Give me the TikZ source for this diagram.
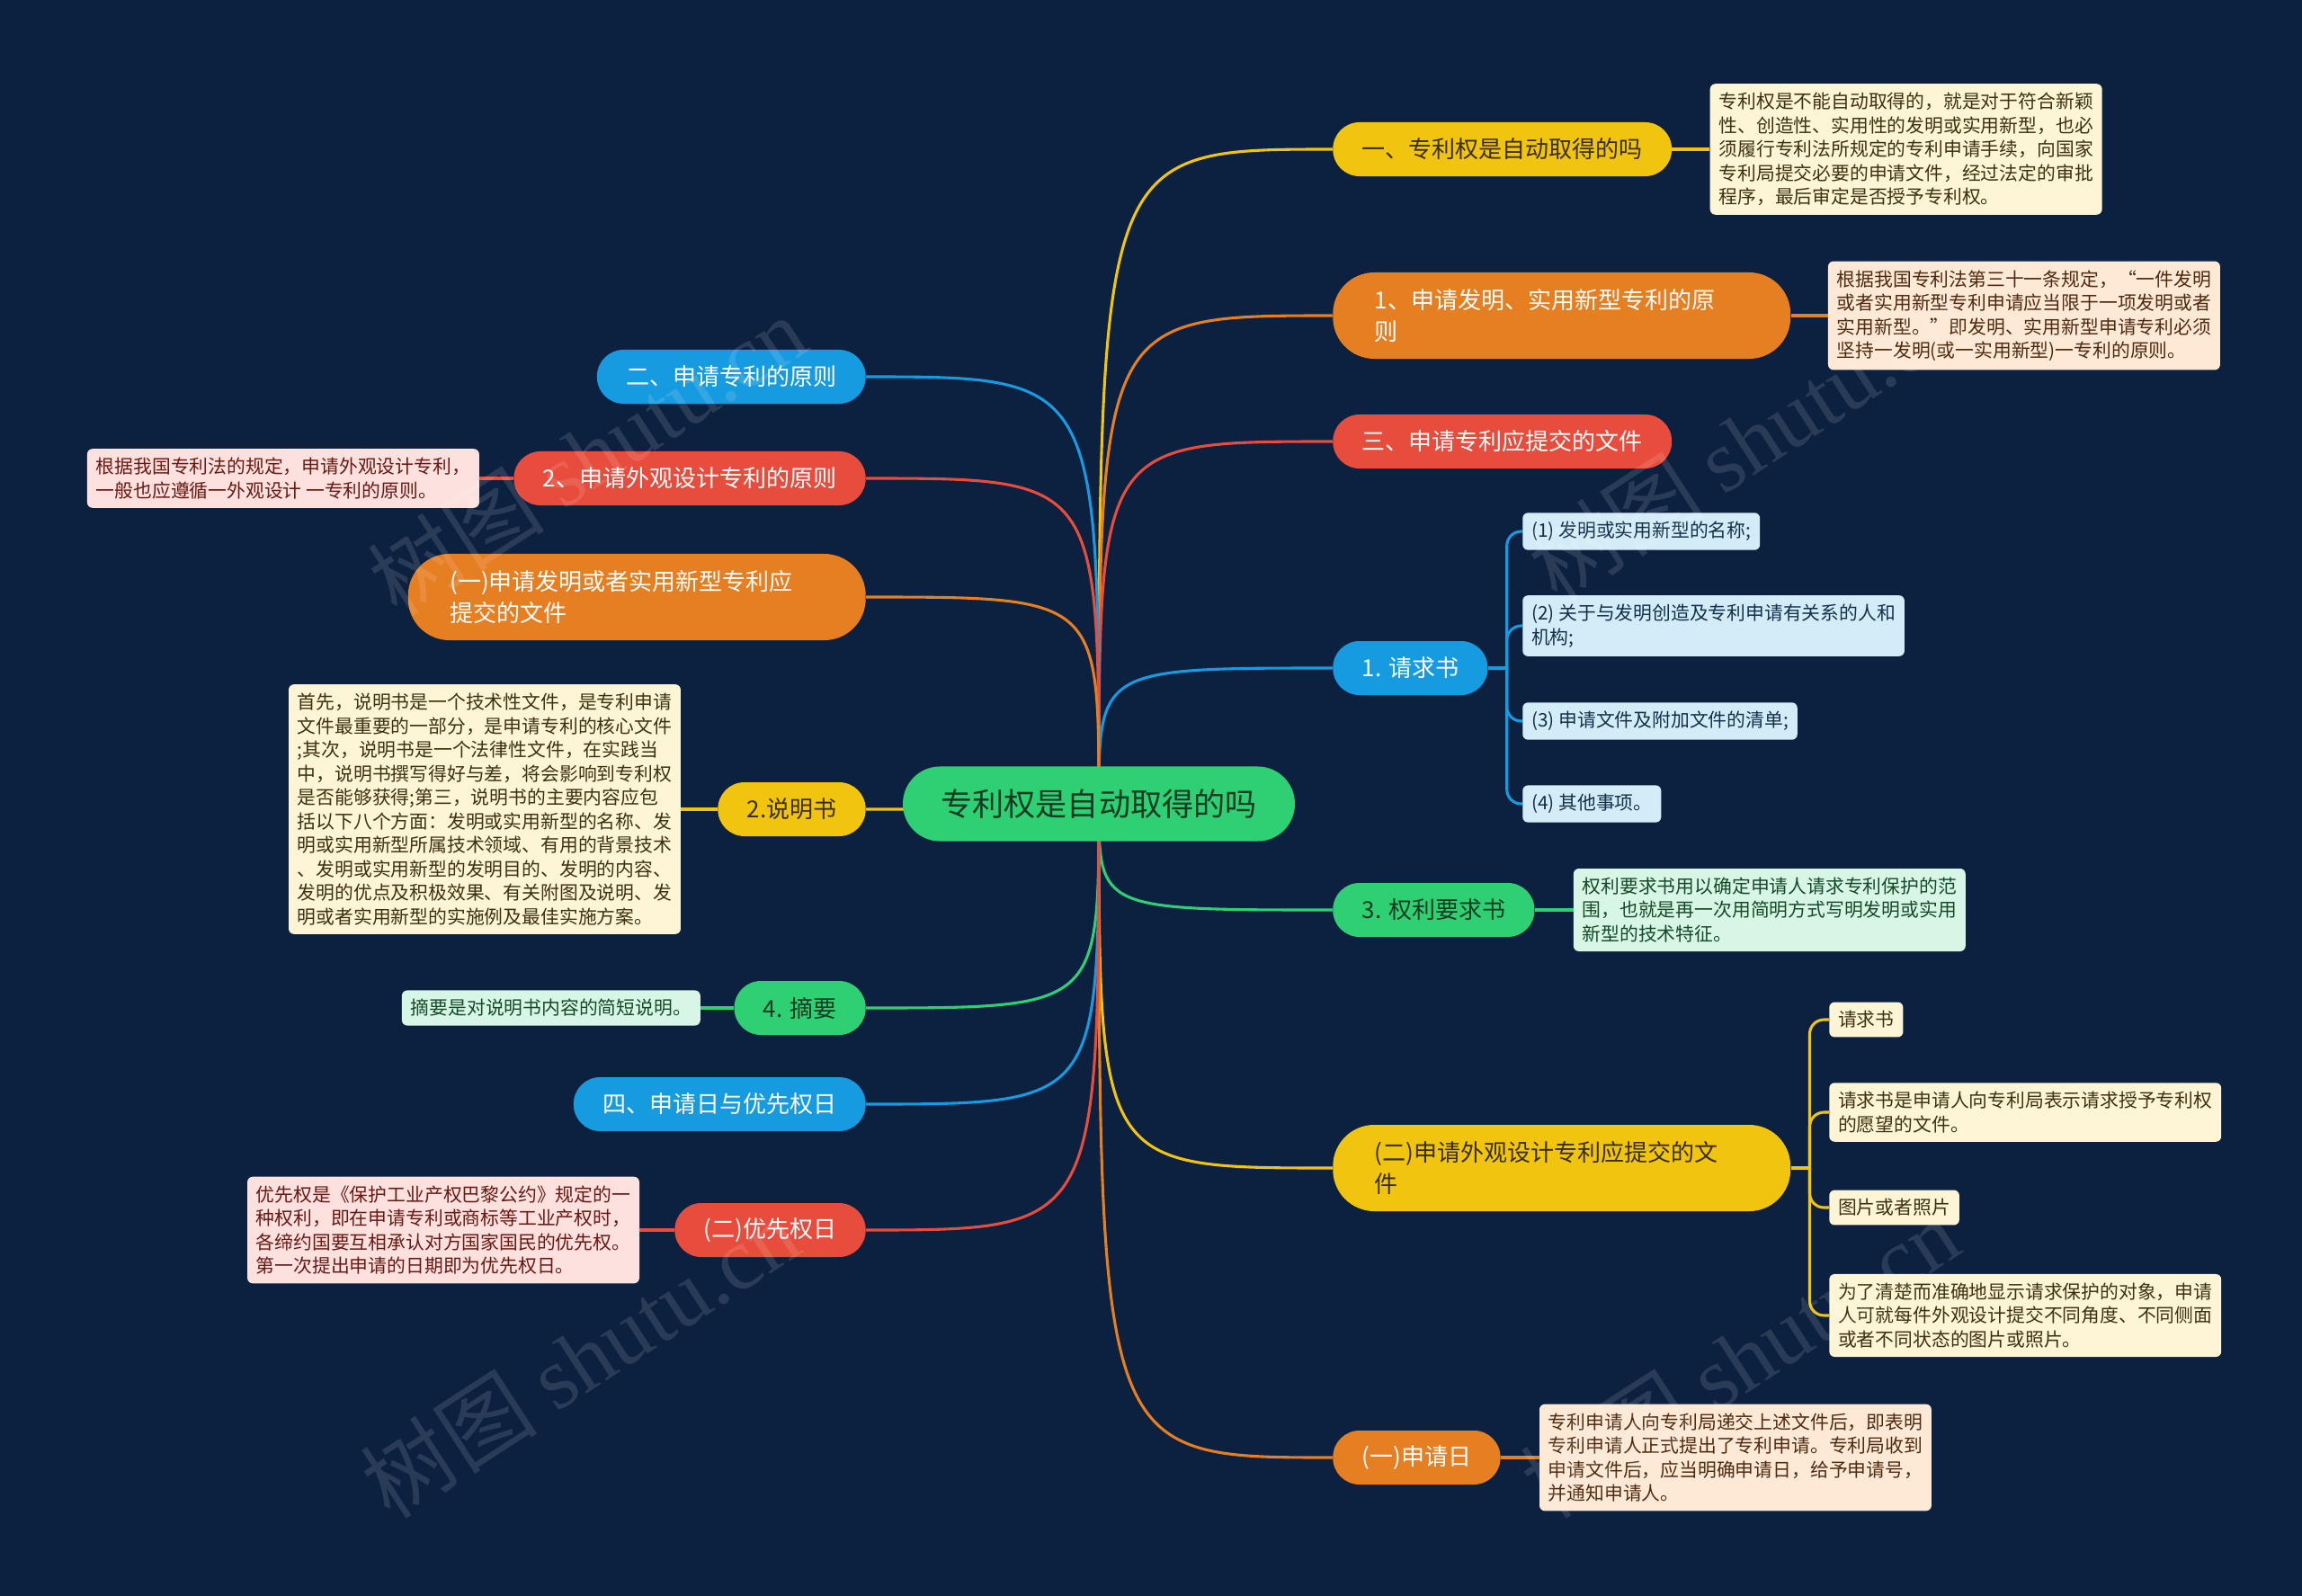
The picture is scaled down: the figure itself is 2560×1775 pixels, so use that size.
\documentclass[tikz,border=0pt]{standalone}
\usepackage{fontspec}
\setmainfont{Noto Sans CJK SC}
\newfontfamily\wmserif{Liberation Serif}
\usetikzlibrary{positioning,backgrounds}

\definecolor{bgnavy}{HTML}{0C213F}
\definecolor{cgrn}{HTML}{2FCF73}
\definecolor{cyel}{HTML}{F1C40F}
\definecolor{corg}{HTML}{E67E22}
\definecolor{cred}{HTML}{E74C3C}
\definecolor{cblu}{HTML}{179BE0}
\definecolor{tgrn}{HTML}{143B21}
\definecolor{tyel}{HTML}{382E00}
\definecolor{lyel}{HTML}{FDF5D5}
\definecolor{lorg}{HTML}{FDE9D6}
\definecolor{lred}{HTML}{FCE1DF}
\definecolor{lblu}{HTML}{D3ECF8}
\definecolor{lgrn}{HTML}{D8F6E5}
\definecolor{kyel}{HTML}{3D3210}
\definecolor{korg}{HTML}{4E2A10}
\definecolor{kred}{HTML}{6A1812}
\definecolor{kblu}{HTML}{12304A}
\definecolor{kgrn}{HTML}{154A28}

\tikzset{
  root/.style={rectangle,rounded corners=1.03cm,fill=cgrn,text=tgrn,
    minimum height=2.075cm,inner xsep=30pt,font=\fontsize{25}{30}\selectfont},
  topic/.style={rectangle,rounded corners=0.74cm,minimum height=1.5cm,
    inner xsep=23pt,font=\fontsize{18.5}{25.5}\selectfont,align=left},
  topic2/.style={topic,rounded corners=1.15cm,minimum height=2.4cm,
    text width=10.4cm,inner xsep=33pt},
  ytopic/.style={fill=cyel,text=tyel},
  otopic/.style={fill=corg,text=white},
  rtopic/.style={fill=cred,text=white},
  btopic/.style={fill=cblu,text=white},
  gtopic/.style={fill=cgrn,text=tgrn},
  leaf/.style={rectangle,rounded corners=0.15cm,inner xsep=7pt,inner ysep=7pt,
    font=\fontsize{14.8}{18.85}\selectfont,align=left},
  yleaf/.style={leaf,fill=lyel,text=kyel},
  oleaf/.style={leaf,fill=lorg,text=korg},
  rleaf/.style={leaf,fill=lred,text=kred},
  bleaf/.style={leaf,fill=lblu,text=kblu},
  gleaf/.style={leaf,fill=lgrn,text=kgrn},
  link/.style={line width=2.2pt},
  wmark/.style={font=\fontsize{70}{70}\selectfont,text=white,opacity=0.12,rotate=33}
}

\begin{document}
\begin{tikzpicture}[x=0.025cm,y=-0.025cm]
  \useasboundingbox (0,0) rectangle (2560,1775);

  \node[root] (ctr) at (1222,894) {专利权是自动取得的吗}; % 中心主题

  % 右侧分支
  \node[topic,ytopic,anchor=west] (R1) at (1482,166) {一、专利权是自动取得的吗};
  \node[topic2,otopic,anchor=west] (R2) at (1482,351) {1、申请发明、实用新型专利的原\\则};
  \node[topic,rtopic,anchor=west] (R3) at (1482,491) {三、申请专利应提交的文件};
  \node[topic,btopic,anchor=west] (R4) at (1482,743) {1. 请求书};
  \node[topic,gtopic,anchor=west] (R5) at (1482,1012) {3. 权利要求书};
  \node[topic2,ytopic,anchor=west] (R6) at (1482,1299) {(二)申请外观设计专利应提交的文\\件};
  \node[topic,otopic,anchor=west] (R7) at (1482,1621) {(一)申请日};

  % 左侧分支
  \node[topic,btopic,anchor=east] (L1) at (963,419) {二、申请专利的原则};
  \node[topic,rtopic,anchor=east] (L2) at (963,532) {2、申请外观设计专利的原则};
  \node[topic2,otopic,anchor=east] (L3) at (963,664) {(一)申请发明或者实用新型专利应\\提交的文件};
  \node[topic,ytopic,anchor=east] (L4) at (963,900) {2.说明书};
  \node[topic,gtopic,anchor=east] (L5) at (963,1121) {4. 摘要};
  \node[topic,btopic,anchor=east] (L6) at (963,1228) {四、申请日与优先权日};
  \node[topic,rtopic,anchor=east] (L7) at (963,1368) {(二)优先权日};

  % 说明文字
  \node[yleaf,right=1.05cm of R1] (R1n) {专利权是不能自动取得的，就是对于符合新颖\\性、创造性、实用性的发明或实用新型，也必\\须履行专利法所规定的专利申请手续，向国家\\专利局提交必要的申请文件，经过法定的审批\\程序，最后审定是否授予专利权。};
  \node[oleaf,right=1.03cm of R2] (R2n) {根据我国专利法第三十一条规定，“一件发明\\或者实用新型专利申请应当限于一项发明或者\\实用新型。”即发明、实用新型申请专利必须\\坚持一发明(或一实用新型)一专利的原则。};
  \node[gleaf,right=1.07cm of R5] (R5n) {权利要求书用以确定申请人请求专利保护的范\\围，也就是再一次用简明方式写明发明或实用\\新型的技术特征。};
  \node[oleaf,right=1.07cm of R7] (R7n) {专利申请人向专利局递交上述文件后，即表明\\专利申请人正式提出了专利申请。专利局收到\\申请文件后，应当明确申请日，给予申请号，\\并通知申请人。};
  \node[rleaf,left=0.95cm of L2] (L2n) {根据我国专利法的规定，申请外观设计专利，\\一般也应遵循一外观设计 一专利的原则。};
  \node[yleaf,left=1.02cm of L4] (L4n) {首先，说明书是一个技术性文件，是专利申请\\文件最重要的一部分，是申请专利的核心文件\\;其次，说明书是一个法律性文件，在实践当\\中，说明书撰写得好与差，将会影响到专利权\\是否能够获得;第三，说明书的主要内容应包\\括以下八个方面：发明或实用新型的名称、发\\明或实用新型所属技术领域、有用的背景技术\\、发明或实用新型的发明目的、发明的内容、\\发明的优点及积极效果、有关附图及说明、发\\明或者实用新型的实施例及最佳实施方案。};
  \node[gleaf,left=0.93cm of L5] (L5n) {摘要是对说明书内容的简短说明。};
  \node[rleaf,left=0.97cm of L7] (L7n) {优先权是《保护工业产权巴黎公约》规定的一\\种权利，即在申请专利或商标等工业产权时，\\各缔约国要互相承认对方国家国民的优先权。\\第一次提出申请的日期即为优先权日。};

  % 请求书的四项
  \node[bleaf,anchor=west] (R4a) at (1693,591) {(1) 发明或实用新型的名称;};
  \node[bleaf,anchor=west] (R4b) at (1693,696) {(2) 关于与发明创造及专利申请有关系的人和\\机构;};
  \node[bleaf,anchor=west] (R4c) at (1693,802) {(3) 申请文件及附加文件的清单;};
  \node[bleaf,anchor=west] (R4d) at (1693,894) {(4) 其他事项。};

  % 外观设计的文件
  \node[yleaf,anchor=west] (R6a) at (2034,1134) {请求书};
  \node[yleaf,anchor=west] (R6b) at (2034,1237) {请求书是申请人向专利局表示请求授予专利权\\的愿望的文件。};
  \node[yleaf,anchor=west] (R6c) at (2034,1343) {图片或者照片};
  \node[yleaf,anchor=west] (R6d) at (2034,1463) {为了清楚而准确地显示请求保护的对象，申请\\人可就每件外观设计提交不同角度、不同侧面\\或者不同状态的图片或照片。};

  \begin{scope}[on background layer]
    \fill[bgnavy] (0,0) rectangle (2560,1775);
    \foreach \n/\c in {R1/cyel,R2/corg,R3/cred,R4/cblu,R5/cgrn,R6/cyel,R7/corg}
      \draw[link,\c] (ctr.center) .. controls (ctr.center |- \n.west) .. (\n.west);
    \foreach \n/\c in {L1/cblu,L2/cred,L3/corg,L4/cyel,L5/cgrn,L6/cblu,L7/cred}
      \draw[link,\c] (ctr.center) .. controls (ctr.center |- \n.east) .. (\n.east);
    \draw[link,cyel] (R1.east) -- (R1n.west);
    \draw[link,corg] (R2.east) -- (R2n.west);
    \draw[link,cgrn] (R5.east) -- (R5n.west);
    \draw[link,corg] (R7.east) -- (R7n.west);
    \draw[link,cred] (L2.west) -- (L2n.east);
    \draw[link,cyel] (L4.west) -- (L4n.east);
    \draw[link,cgrn] (L5.west) -- (L5n.east);
    \draw[link,cred] (L7.west) -- (L7n.east);
    \draw[link,cblu] (R4.east) -- ++(21,0) coordinate (j4);
    \foreach \k in {R4a,R4b,R4c,R4d}
      \draw[link,cblu,rounded corners=0.4cm] (j4) |- (\k.west);
    \draw[link,cyel] (R6.east) -- ++(21,0) coordinate (j6);
    \foreach \k in {R6a,R6b,R6c,R6d}
      \draw[link,cyel,rounded corners=0.4cm] (j6) |- (\k.west);
  \end{scope}

  % 水印
  \node[wmark] (wm1) at (653,506) {树图 {\wmserif shutu.cn}};
  \node[wmark] (wm2) at (1943,490) {树图 {\wmserif shutu.cn}};
  \node[wmark] (wm3) at (645,1510) {树图 {\wmserif shutu.cn}};
  \node[wmark] (wm4) at (1935,1510) {树图 {\wmserif shutu.cn}};
\end{tikzpicture}
\end{document}
